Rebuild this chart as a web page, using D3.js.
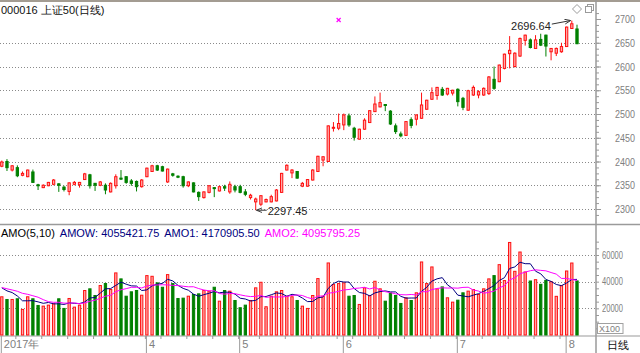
<!DOCTYPE html>
<html><head><meta charset="utf-8">
<script src="https://cdn.jsdelivr.net/npm/d3@7"></script>
<style>html,body{margin:0;padding:0;background:#fff;}svg{display:block;font-family:"Liberation Sans",Arial,sans-serif;}</style>
</head><body><svg id="c" width="640" height="353"></svg>
<script>
// ---------------- data ----------------
const title = "000016 上证50(日线)";
const dates = [
"2017-02-22","2017-02-23","2017-02-24","2017-02-27","2017-02-28",
"2017-03-01","2017-03-02","2017-03-03","2017-03-06","2017-03-07","2017-03-08","2017-03-09","2017-03-10",
"2017-03-13","2017-03-14","2017-03-15","2017-03-16","2017-03-17","2017-03-20","2017-03-21","2017-03-22",
"2017-03-23","2017-03-24","2017-03-27","2017-03-28","2017-03-29","2017-03-30","2017-03-31",
"2017-04-05","2017-04-06","2017-04-07","2017-04-10","2017-04-11","2017-04-12","2017-04-13","2017-04-14",
"2017-04-17","2017-04-18","2017-04-19","2017-04-20","2017-04-21","2017-04-24","2017-04-25","2017-04-26",
"2017-04-27","2017-04-28",
"2017-05-02","2017-05-03","2017-05-04","2017-05-05","2017-05-08","2017-05-09","2017-05-10","2017-05-11",
"2017-05-12","2017-05-15","2017-05-16","2017-05-17","2017-05-18","2017-05-19","2017-05-22","2017-05-23",
"2017-05-24","2017-05-25","2017-05-26","2017-05-31",
"2017-06-01","2017-06-02","2017-06-05","2017-06-06","2017-06-07","2017-06-08","2017-06-09","2017-06-12",
"2017-06-13","2017-06-14","2017-06-15","2017-06-16","2017-06-19","2017-06-20","2017-06-21","2017-06-22",
"2017-06-23","2017-06-26","2017-06-27","2017-06-28","2017-06-29","2017-06-30",
"2017-07-03","2017-07-04","2017-07-05","2017-07-06","2017-07-07","2017-07-10","2017-07-11","2017-07-12",
"2017-07-13","2017-07-14","2017-07-17","2017-07-18","2017-07-19","2017-07-20","2017-07-21","2017-07-24",
"2017-07-25","2017-07-26","2017-07-27","2017-07-28","2017-07-31",
"2017-08-01","2017-08-02","2017-08-03"];
const open = [2390,2400,2382,2387,2371,2368,2378,2351,2345,2349,
 2352,2353,2346,2337,2352,2351,2362,2372,2354,2350,
 2350,2336,2349,2365,2368,2359,2358,2347,2368,2379,
 2391,2389,2357,2374,2369,2368,2349,2355,2335,2324,
 2335,2345,2338,2347,2336,2347,2347,2336,2324,2315,
 2310,2315,2315,2317,2335,2382,2376,2379,2348,2348,
 2361,2379,2403,2400,2470,2470,2477,2496,2470,2447,
 2468,2482,2505,2515,2520,2506,2475,2458,2455,2488,
 2489,2491,2510,2531,2539,2552,2542,2544,2552,2533,
 2508,2540,2540,2540,2543,2573,2568,2596,2627,2600,
 2622,2655,2656,2638,2657,2666,2631,2628,2631,2642,
 2680,2679];
const high = [2402,2405,2392,2392,2379,2383,2383,2353,2352,2357,
 2363,2354,2349,2356,2359,2357,2376,2374,2355,2359,
 2354,2356,2373,2382,2369,2363,2360,2363,2387,2393,
 2393,2391,2385,2376,2371,2370,2358,2356,2337,2337,
 2350,2346,2349,2351,2358,2351,2351,2342,2332,2324,
 2329,2322,2330,2342,2376,2394,2384,2380,2357,2363,
 2384,2412,2411,2476,2483,2501,2501,2501,2473,2469,
 2491,2508,2537,2545,2521,2508,2480,2463,2485,2493,
 2499,2545,2530,2556,2557,2557,2555,2551,2554,2536,
 2551,2560,2550,2556,2580,2600,2604,2627,2664,2630,
 2661,2667,2659,2666,2669,2667,2639,2640,2650,2684,
 2696.64,2688];
const low = [2388,2380,2379,2367,2369,2367,2355,2340,2344,2348,
 2350,2336,2337,2329,2350,2345,2361,2343,2338,2348,
 2331,2335,2343,2361,2353,2349,2337,2345,2367,2378,
 2380,2379,2355,2368,2365,2345,2346,2335,2317,2322,
 2333,2325,2337,2338,2332,2335,2333,2327,2320,2297.45,
 2306,2314,2314,2316,2334,2381,2365,2364,2346,2347,
 2360,2378,2390,2399,2463,2466,2466,2473,2444,2446,
 2467,2481,2505,2514,2506,2477,2458,2451,2454,2470,
 2476,2490,2509,2530,2530,2538,2539,2539,2516,2508,
 2507,2538,2533,2538,2540,2551,2567,2594,2596,2598,
 2620,2644,2638,2637,2643,2621,2613,2622,2629,2641,
 2679,2647];
const close = [2399,2387,2391,2370,2375,2382,2356,2349,2350,2356,
 2361,2350,2341,2355,2356,2356,2374,2349,2350,2357,
 2340,2354,2368,2363,2356,2354,2347,2361,2386,2391,
 2382,2380,2384,2371,2367,2349,2357,2336,2326,2336,
 2349,2343,2347,2344,2352,2340,2335,2331,2329,2321,
 2328,2320,2326,2340,2375,2392,2382,2365,2354,2362,
 2382,2411,2410,2475,2472,2480,2498,2477,2451,2468,
 2487,2507,2521,2524,2518,2479,2463,2454,2484,2476,
 2498,2519,2529,2545,2556,2540,2554,2550,2526,2514,
 2549,2556,2547,2554,2578,2554,2603,2626,2634,2628,
 2659,2666,2640,2656,2645,2643,2638,2638,2642,2683,
 2690,2648];
// turnover (x100)
const amount = [28660,26640,26640,27160,19180,28660,27160,22160,21640,22390,
 23430,27160,19930,27390,20900,22390,33360,34630,29630,37090,
 38580,34100,46570,42090,29100,32390,33360,29850,44550,44030,
 39100,35820,45300,38580,27390,27640,29100,30370,30870,33360,
 32860,35820,25370,33360,32860,25890,20450,22390,25890,35370,
 39550,21190,29100,32390,33360,29100,28660,25890,21640,19930,
 29630,42310,29100,54030,37840,38580,39100,29100,29630,22910,
 35370,29630,40300,34630,25370,31640,29630,23660,27900,25890,
 31640,54770,38580,51040,34630,36070,27900,24630,26120,31640,
 32890,34120,30370,34630,42090,44550,52760,40820,69400,47760,
 62240,47260,40500,41500,38000,41000,40035,29000,37000,48000,
 53991,40554.22];
// sessions before the first visible bar (only feed the moving averages)
const priorAmount = [36000,35500,37000,34650,36000,38000,33000,40000,37190];
const maPeriods = [5, 10];
const priceTicks = [2300,2350,2400,2450,2500,2550,2600,2650,2700];
const amountTicks = [20000,40000,60000];
const legendLabels = ["AMO(5,10)","AMOW: 4055421.75","AMO1: 4170905.50","AMO2: 4095795.25"];
const legendColors = ["#000000","#000080","#000080","#ff00ff"];
const markerDates = ["2017-05-31"];

// ---------------- layout ----------------
const svg = d3.select("#c");
const W = 640, H = 353, axisX = 596, sepY = 224.5, baseY = 336;
const RED = "#ff1010", PINK = "#ffa8a8", GREEN = "#008000";
const FONT = "Liberation Sans, Arial, sans-serif";
const x = d3.scalePoint().domain(dates).range([1.8, 577]);
const bw = 3.3;
const y = d3.scaleLinear().domain([2300, 2700]).range([209, 19]);
const yv = d3.scaleLinear().domain([0, 60000]).range([335, 255]);
const data = dates.map((d, i) => ({d, o: open[i], h: high[i], l: low[i], c: close[i], a: amount[i], up: close[i] >= open[i]}));

svg.append("rect").attr("width", W).attr("height", H).attr("fill", "#fff");

// grid
const grid = svg.append("g").attr("stroke", "#8a8a8a").attr("stroke-dasharray", "1,2").attr("stroke-width", 1);
grid.selectAll("line.p").data(priceTicks.filter(t => t < y.domain()[1])).join("line")
  .attr("x1", 0).attr("x2", axisX).attr("y1", d => Math.round(y(d)) + 0.5).attr("y2", d => Math.round(y(d)) + 0.5);
grid.selectAll("line.v").data(amountTicks).join("line")
  .attr("x1", 0).attr("x2", axisX).attr("y1", d => Math.round(yv(d)) + 0.5).attr("y2", d => Math.round(yv(d)) + 0.5);

// frame lines
const fr = svg.append("g").attr("stroke", "#9a9a9a");
fr.append("line").attr("x1", 0).attr("x2", W).attr("y1", 1).attr("y2", 1).attr("stroke-width", 2).attr("stroke", "#a39c92");
fr.append("line").attr("x1", axisX).attr("x2", axisX).attr("y1", 0).attr("y2", H).attr("stroke-width", 1.5);
fr.append("line").attr("x1", 0).attr("x2", W).attr("y1", sepY).attr("y2", sepY).attr("stroke-width", 1.5);
fr.append("line").attr("x1", 0).attr("x2", W).attr("y1", baseY).attr("y2", baseY).attr("stroke-width", 1.2);

// candles
const cg = svg.append("g");
const cs = cg.selectAll("g").data(data).join("g");
cs.append("line").attr("x1", d => x(d.d)).attr("x2", d => x(d.d))
  .attr("y1", d => y(d.h)).attr("y2", d => y(d.l))
  .attr("stroke", d => d.up ? RED : GREEN).attr("stroke-width", 1);
cs.append("rect")
  .attr("x", d => x(d.d) - bw / 2 + 0.5)
  .attr("y", d => y(Math.max(d.o, d.c)))
  .attr("width", bw - 1)
  .attr("height", d => Math.max(1, Math.abs(y(d.o) - y(d.c))))
  .attr("fill", d => d.up ? PINK : GREEN)
  .attr("stroke", d => d.up ? RED : GREEN).attr("stroke-width", 1);

// amount bars
svg.append("g").selectAll("rect").data(data).join("rect")
  .attr("x", d => x(d.d) - bw / 2 + 0.5)
  .attr("y", d => yv(d.a))
  .attr("width", bw - 1)
  .attr("height", d => yv(0) - yv(d.a))
  .attr("fill", d => d.up ? PINK : GREEN)
  .attr("stroke", d => d.up ? RED : GREEN).attr("stroke-width", 1);

// moving averages of amount
const full = priorAmount.concat(amount);
const off = priorAmount.length;
const maColors = ["#000080", "#ff00ff"];
maPeriods.forEach((n, k) => {
  const vals = amount.map((_, i) => d3.mean(full.slice(i + off - n + 1, i + off + 1)));
  svg.append("path").datum(vals)
    .attr("fill", "none").attr("stroke", maColors[k]).attr("stroke-width", 1)
    .attr("d", d3.line().x((v, i) => x(dates[i])).y(v => yv(v)));
});

// right price axis
const pa = svg.append("g").attr("transform", `translate(${axisX},0)`)
  .call(d3.axisRight(y).tickValues(d3.range(2287.5, 2713, 12.5)).tickSize(3).tickFormat(""));
pa.select(".domain").remove();
pa.selectAll("line").attr("stroke", "#999");
const pa2 = svg.append("g").attr("transform", `translate(${axisX},0)`)
  .call(d3.axisRight(y).tickValues(priceTicks).tickSize(5).tickPadding(14).tickFormat(d3.format("d")));
pa2.select(".domain").remove();
pa2.selectAll("line").attr("stroke", "#999");
pa2.selectAll("text").attr("fill", "#808080").attr("font-size", 11).attr("font-family", FONT)
  .attr("textLength", 20).attr("lengthAdjust", "spacingAndGlyphs");

// right amount axis
const va = svg.append("g").attr("transform", `translate(${axisX},0)`)
  .call(d3.axisRight(yv).tickValues(d3.range(5000, 70001, 5000)).tickSize(3).tickFormat(""));
va.select(".domain").remove();
va.selectAll("line").attr("stroke", "#999");
const va2 = svg.append("g").attr("transform", `translate(${axisX},0)`)
  .call(d3.axisRight(yv).tickValues(amountTicks).tickSize(0).tickPadding(6).tickFormat(d3.format("d")));
va2.select(".domain").remove();
va2.selectAll("text").attr("fill", "#808080").attr("font-size", 10).attr("font-family", FONT)
  .attr("textLength", 21).attr("lengthAdjust", "spacingAndGlyphs");
svg.append("rect").attr("x", axisX + 1.5).attr("y", 323.5).attr("width", 25.5).attr("height", 10)
  .attr("fill", "#fff").attr("stroke", "#a0a0a0");
svg.append("text").attr("x", axisX + 3).attr("y", 332).attr("font-size", 9.5).attr("fill", "#808080")
  .attr("textLength", 21).attr("lengthAdjust", "spacingAndGlyphs").text("X100");

// bottom date axis
const parse = d3.timeParse("%Y-%m-%d");
const monthStarts = dates.filter((d, i) => i === 0 || d.slice(5, 7) !== dates[i - 1].slice(5, 7));
const labelled = monthStarts.filter(d => d === dates[0] || x(d) - x(dates[0]) > 40);
const weekStarts = dates.filter((d, i) => i > 0 && (parse(d).getDay() < parse(dates[i - 1]).getDay() || (parse(d) - parse(dates[i - 1])) > 5 * 864e5));
const wa = svg.append("g").attr("transform", `translate(0,${baseY})`)
  .call(d3.axisBottom(x).tickValues(weekStarts).tickSize(3).tickFormat(""));
wa.select(".domain").remove();
wa.selectAll("line").attr("stroke", "#999").attr("transform", "translate(-2,0)");
const ba = svg.append("g").attr("transform", `translate(0,${baseY})`)
  .call(d3.axisBottom(x).tickValues(labelled).tickSize(17)
    .tickFormat(d => d === dates[0] ? d.slice(0, 4) + "年" : String(+d.slice(5, 7))));
ba.select(".domain").remove();
ba.selectAll("line").attr("stroke", "#999").attr("transform", "translate(-1,0)");
ba.selectAll("text").attr("text-anchor", "start").attr("x", 1.5).attr("y", 4).attr("dy", "0.71em")
  .attr("fill", "#808080").attr("font-size", 11).attr("font-family", FONT);
svg.append("text").attr("x", 607).attr("y", 349).attr("font-size", 11).attr("fill", "#111").text("日线");

// title and legend
svg.append("text").attr("x", 1).attr("y", 14).attr("font-size", 11).attr("fill", "#111").text(title);
let lx = 1;
legendLabels.forEach((t, i) => {
  const tx = svg.append("text").attr("x", lx).attr("y", 236.5).attr("font-size", 11)
    .attr("fill", legendColors[i]).text(t);
  lx += tx.node().getComputedTextLength() + 5;
});

// extremes annotations
const defs = svg.append("defs");
defs.append("marker").attr("id", "ah").attr("viewBox", "0 0 8 8").attr("refX", 7.5).attr("refY", 4)
  .attr("markerWidth", 6).attr("markerHeight", 6).attr("orient", "auto")
  .append("path").attr("d", "M0,0.8L8,4L0,7.2").attr("fill", "none").attr("stroke", "#333").attr("stroke-width", 1.2);
const iHi = d3.maxIndex(high), iLo = d3.minIndex(low);
const hx = x(dates[iHi]), hy = y(high[iHi]);
svg.append("line").attr("x1", hx - 20).attr("y1", hy + 3.5).attr("x2", hx - 1.5).attr("y2", hy)
  .attr("stroke", "#333").attr("marker-end", "url(#ah)");
svg.append("text").attr("x", hx - 21).attr("y", hy + 9.5).attr("text-anchor", "end")
  .attr("font-size", 11).attr("fill", "#222").text(high[iHi].toFixed(2));
const lxp = x(dates[iLo]), lyp = y(low[iLo]);
svg.append("line").attr("x1", lxp + 11).attr("y1", lyp).attr("x2", lxp + 1).attr("y2", lyp)
  .attr("stroke", "#333").attr("marker-end", "url(#ah)");
svg.append("text").attr("x", lxp + 12).attr("y", lyp + 4.5)
  .attr("font-size", 11).attr("fill", "#222").text(low[iLo].toFixed(2));

// info marker
svg.append("g").selectAll("path").data(markerDates).join("path")
  .attr("d", d => { const cx = x(d), cy = y.range()[1] + 1; return `M${cx-2},${cy-2}L${cx+2},${cy+2}M${cx-2},${cy+2}L${cx+2},${cy-2}`; })
  .attr("stroke", "#ff00ff").attr("stroke-width", 1.2);

// top-right icons
const ic = svg.append("g").attr("fill", "#fff").attr("stroke", "#9a9a9a").attr("stroke-width", 1);
ic.append("path").attr("d", "M577,4.5L581.5,9L577,13.5L572.5,9Z");
ic.append("rect").attr("x", 587.5).attr("y", 4.5).attr("width", 6).attr("height", 6);
ic.append("rect").attr("x", 585.5).attr("y", 6.5).attr("width", 6).attr("height", 6);
</script></body></html>
